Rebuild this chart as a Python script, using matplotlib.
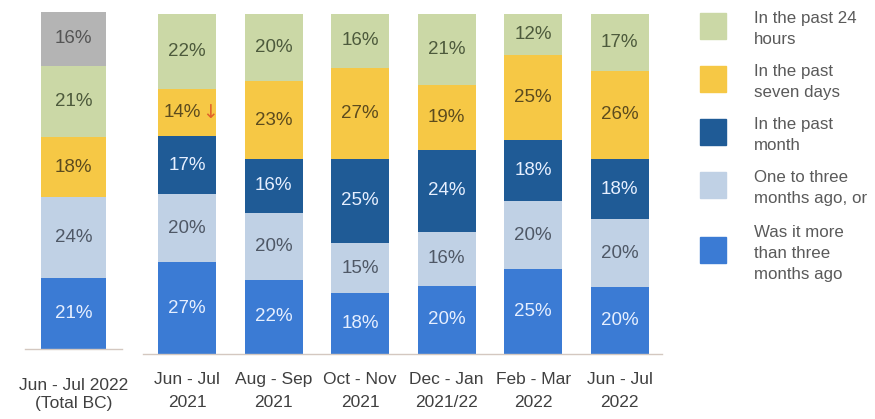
import matplotlib
matplotlib.use("Agg")
import matplotlib.pyplot as plt
import numpy as np
from matplotlib.patches import Rectangle

plt.rcParams['font.family'] = ['Liberation Sans', 'DejaVu Sans']

# ---- data ----
periods = ["Jun - Jul\n2021", "Aug - Sep\n2021", "Oct - Nov\n2021",
           "Dec - Jan\n2021/22", "Feb - Mar\n2022", "Jun - Jul\n2022"]
more_than_three = [27, 22, 18, 20, 25, 20]
one_to_three = [20, 20, 15, 16, 20, 20]
past_month = [17, 16, 25, 24, 18, 18]
past_seven_days = [14, 23, 27, 19, 25, 26]
past_24_hours = [22, 20, 16, 21, 12, 17]

total_label = "Jun - Jul 2022\n(Total BC)"
# bottom to top: more than three months, one to three months, seven days, 24 hours, other
total_values = [21, 24, 18, 21, 16]

series_names = ["In the past 24\nhours", "In the past\nseven days", "In the past\nmonth",
                "One to three\nmonths ago, or", "Was it more\nthan three\nmonths ago"]

# ---- styles ----
c_green = "#cbd8a6"
c_yellow = "#f6c845"
c_dark = "#1f5b96"
c_light = "#c0d1e5"
c_mid = "#3b7bd4"
c_gray = "#b4b4b4"
txt_dark = {c_green: "#4d5a3c", c_yellow: "#5c4b1e", c_light: "#4f5866",
            c_gray: "#555555", c_dark: "#e6efff", c_mid: "#e6efff"}
fs = 13.5
tick_fs = 12.5
leg_fs = 12.2
axis_col = "#d4c8c0"

fig = plt.figure(figsize=(8.75, 4.19), dpi=100)
W, H = 875, 419

def px_axes(l, t, r, b):
    return fig.add_axes([l / W, 1 - b / H, (r - l) / W, (b - t) / H])

def style(ax, pad):
    for s in ["top", "right", "left"]:
        ax.spines[s].set_visible(False)
    ax.spines["bottom"].set_color(axis_col)
    ax.spines["bottom"].set_linewidth(1.0)
    ax.set_yticks([])
    ax.tick_params(axis="x", length=0, pad=pad, labelsize=tick_fs, colors="#404040")
    ax.set_ylim(0, 100)

# ---- left panel ----
ax1 = px_axes(25, 12, 122, 349)
style(ax1, 21)
left_cols = [c_mid, c_light, c_yellow, c_green, c_gray]
bottom = 0
for v, c in zip(total_values, left_cols):
    ax1.bar(0, v, width=0.68, bottom=bottom, color=c)
    ax1.text(0, bottom + v / 2, f"{v}%", ha="center", va="center",
             fontsize=fs, color=txt_dark[c])
    bottom += v
ax1.set_xlim(-0.5, 0.5)
ax1.set_xticks([0])
ax1.set_xticklabels([total_label], linespacing=1.25)

# ---- right panel ----
ax2 = px_axes(143, 14, 662, 354)
style(ax2, 13)
x = np.arange(len(periods))
stack = [more_than_three, one_to_three, past_month, past_seven_days, past_24_hours]
cols = [c_mid, c_light, c_dark, c_yellow, c_green]
totals = np.sum(np.array(stack), axis=0)
bottoms = np.zeros(len(periods))
for vals, c in zip(stack, cols):
    h = np.array(vals) / totals * 100
    ax2.bar(x, h, width=0.67, bottom=bottoms, color=c)
    for i in range(len(periods)):
        yc = bottoms[i] + h[i] / 2
        if c == c_yellow and i == 0:
            ax2.text(x[i] - 0.06, yc, f"{vals[i]}%", ha="center", va="center",
                     fontsize=fs, color=txt_dark[c])
            ax2.text(x[i] + 0.26, yc, "\u2193", ha="center", va="center",
                     fontsize=fs, color="#e0602a",
                     family=["DejaVu Sans"])
        else:
            ax2.text(x[i], yc, f"{vals[i]}%", ha="center", va="center",
                     fontsize=fs, color=txt_dark[c])
    bottoms += h
ax2.set_xlim(-0.51, 5.49)
ax2.set_xticks(x)
ax2.set_xticklabels(periods, linespacing=1.7)

# ---- legend ----
leg_cols = [c_green, c_yellow, c_dark, c_light, c_mid]
sq_y = [26, 79, 132, 185, 250]
for name, c, yc in zip(series_names, leg_cols, sq_y):
    fig.patches.append(Rectangle((700 / W, 1 - (yc + 13) / H), 26 / W, 26 / H,
                                 transform=fig.transFigure, color=c))
    fig.text(754 / W, 1 - (yc + 3) / H, name, ha="left", va="center",
             fontsize=leg_fs, color="#5a5a5a", linespacing=1.5)

fig.savefig("out.png", dpi=100)
